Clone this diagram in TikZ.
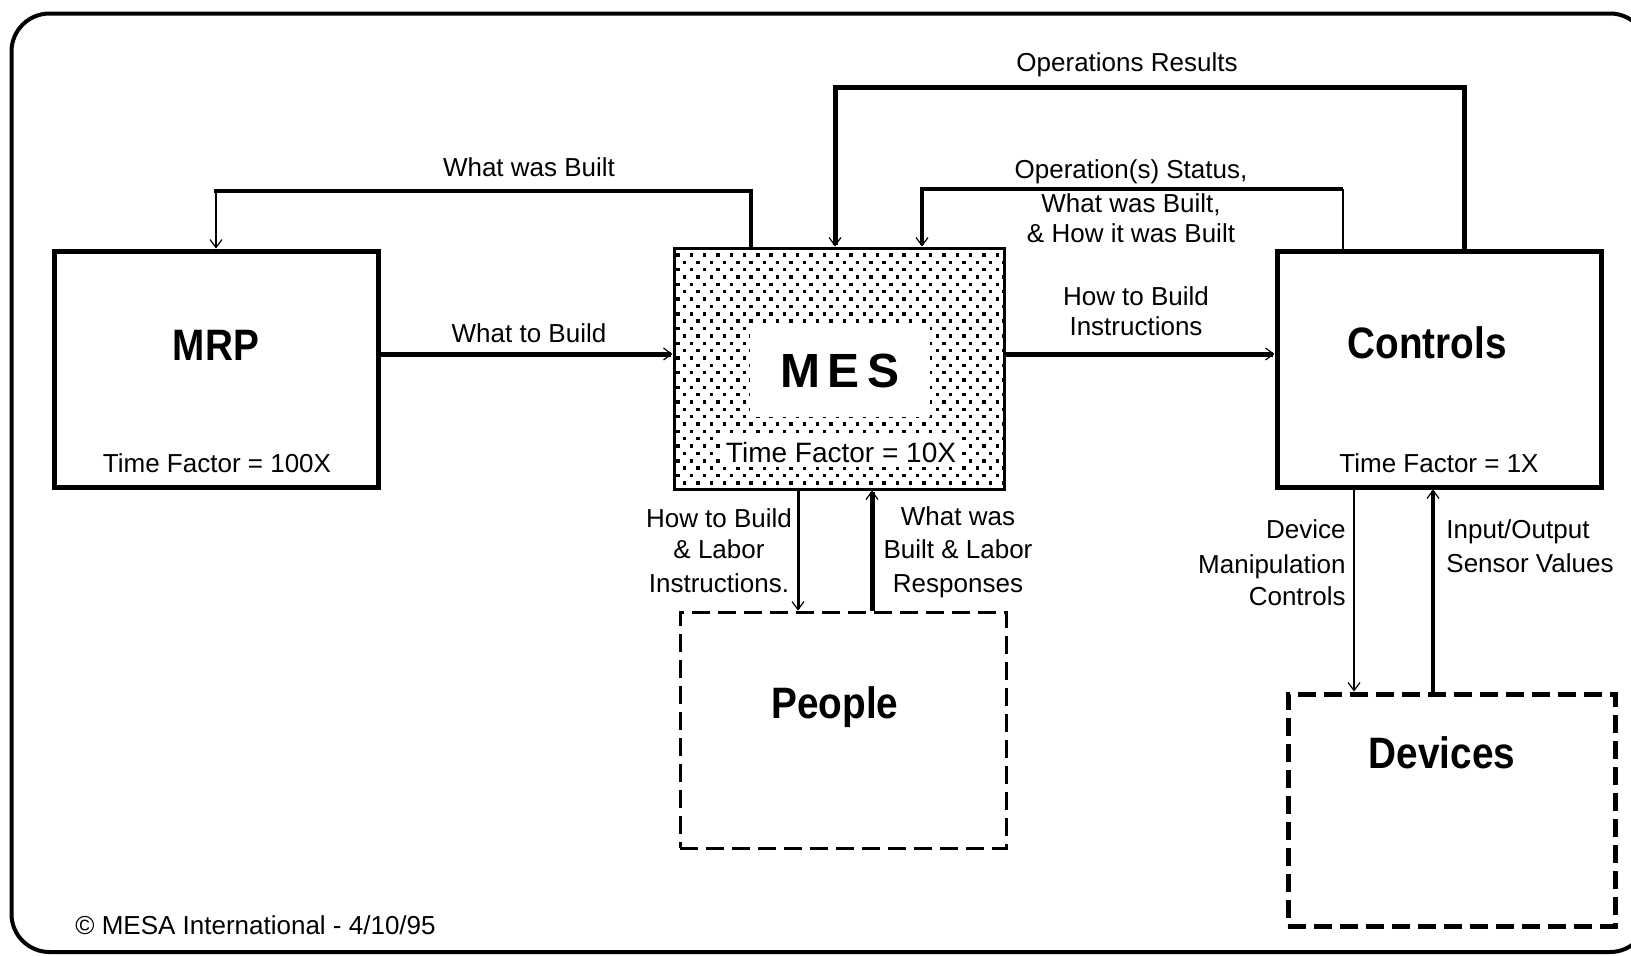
\documentclass[tikz,border=0pt]{standalone}
\usepackage{fontspec}
\setmainfont{Liberation Sans}
\newfontfamily\titlefont[FakeStretch=0.88]{Liberation Sans}
\usetikzlibrary{arrows.meta}
\begin{document}
\begin{tikzpicture}[x=0.5pt,y=-0.5pt,
  solidbox/.style={draw, line width=2.5pt, inner sep=0pt},
  dashbox/.style={draw, inner sep=0pt, dash pattern=on 9pt off 4pt},
  boxtitle/.style={font=\titlefont\bfseries\fontsize{22}{26}\selectfont, inner sep=0pt, anchor=base},
  lbl/.style={font=\fontsize{13}{16}\selectfont, inner sep=0pt, anchor=base},
  flow/.style={-{Straight Barb[length=4pt,width=6pt,line width=0.6pt]}},
]
\useasboundingbox (0,0) rectangle (1631,955);
\clip (0,0) rectangle (1631,955);

% outer frame
\draw[line width=2pt, rounded corners=19pt] (11.5,13.5) rectangle (1648,952);

% stippled fill of the MES block
\begin{scope}
  \clip (674,248) rectangle (1004,489);
  \foreach \i in {0,...,32}{
    \foreach \j in {0,...,25}{
      \pgfmathsetmacro{\xx}{678+13.3*\j+6.65*mod(\i,2)}
      \pgfmathsetmacro{\yy}{255+7.35*\i}
      \fill (\xx-1.7,\yy-1.7) rectangle ++(3.4,3.4);
    }
  }
\end{scope}

% blocks
\node[solidbox, minimum width=162pt, minimum height=118pt] (mrp) at (216,369) {};
\node[draw, line width=1.5pt, inner sep=0pt, minimum width=165pt, minimum height=120.5pt] (mes) at (839,368.5) {};
\node[solidbox, minimum width=162pt, minimum height=118pt] (ctrl) at (1439,369) {};
\node[dashbox, line width=1.5pt, minimum width=163pt, minimum height=118pt] (people) at (843,730) {};
\node[dashbox, line width=2.5pt, minimum width=163.5pt, minimum height=116pt] (dev) at (1451.5,810) {};

% block titles
\node[boxtitle] (tmrp) at (216,360) {MRP};
\node[boxtitle] (tctrl) at (1427,358) {Controls};
\node[boxtitle] (tpeople) at (835,718) {People};
\node[boxtitle] (tdev) at (1442,768) {Devices};
\node[fill=white, inner sep=0pt, minimum width=90pt, minimum height=46pt,
      font=\bfseries\fontsize{24}{28}\selectfont] (tmes) at (840,371) {M\kern4pt E\kern4pt S};

% time factors
\node[lbl] (tfmrp) at (217,472) {Time Factor = 100X};
\node[lbl] (tfctrl) at (1439,472) {Time Factor = 1X};
\node[fill=white, inner xsep=1.5pt, inner ysep=2.5pt, anchor=base,
      font=\fontsize{14}{17}\selectfont] (tfmes) at (841,462) {Time Factor = 10X};

% horizontal flows
\draw[flow, line width=2.5pt] (mrp.east |- 0,354) -- (mes.west |- 0,354);
\draw[flow, line width=2.5pt] (mes.east |- 0,354) -- (ctrl.west |- 0,354);

% MES -> MRP feedback
\coordinate (wbcorner) at (216,191);
\draw[line width=2pt, line cap=rect] (mes.north -| 751,0) |- (wbcorner);
\draw[flow, line width=1pt] (wbcorner) -- (mrp.north -| 216,0);

% Controls -> MES results
\draw[flow, line width=2.5pt] (ctrl.north -| 1464,0) |- (835,87) -- (mes.north -| 835,0);

% Controls -> MES status
\coordinate (stcorner) at (1343,189);
\draw[line width=1pt] (ctrl.north -| 1343,0) -- (stcorner);
\draw[flow, line width=2pt] (stcorner) -| (mes.north -| 922,0);

% MES <-> People
\draw[flow, line width=1.5pt] (mes.south -| 798,0) -- (people.north -| 798,0);
\draw[flow, line width=2.5pt] (people.north -| 872,0) -- (mes.south -| 872,0);

% Controls <-> Devices
\draw[flow, line width=1pt] (ctrl.south -| 1354,0) -- (dev.north -| 1354,0);
\draw[flow, line width=2pt] (dev.north -| 1433,0) -- (ctrl.south -| 1433,0);

% flow labels
\node[lbl] (lres) at (1127,71) {Operations Results};
\node[lbl] (lwb) at (529,176) {What was Built};
\node[lbl] (lst1) at (1131,178) {Operation(s) Status,};
\node[lbl] (lst2) at (1131,212) {What was Built,};
\node[lbl] (lst3) at (1131,242) {\& How it was Built};
\node[lbl] (lwtb) at (529,342) {What to Build};
\node[lbl] (lhtb1) at (1136,305) {How to Build};
\node[lbl] (lhtb2) at (1136,335) {Instructions};
\node[lbl] (lli1) at (719,527) {How to Build};
\node[lbl] (lli2) at (719,558) {\& Labor};
\node[lbl] (lli3) at (719,592) {Instructions.};
\node[lbl] (llr1) at (958,525) {What was};
\node[lbl] (llr2) at (958,558) {Built \& Labor};
\node[lbl] (llr3) at (958,592) {Responses};
\node[lbl, anchor=base east] (ldm1) at (1346,538) {Device};
\node[lbl, anchor=base east] (ldm2) at (1346,573) {Manipulation};
\node[lbl, anchor=base east] (ldm3) at (1346,605) {Controls};
\node[lbl, anchor=base west] (lio1) at (1446,538) {Input/Output};
\node[lbl, anchor=base west] (lio2) at (1446,572) {Sensor Values};

% credit line
\node[lbl, anchor=base west] (credit) at (75,934) {© MESA International - 4/10/95};
\end{tikzpicture}
\end{document}
